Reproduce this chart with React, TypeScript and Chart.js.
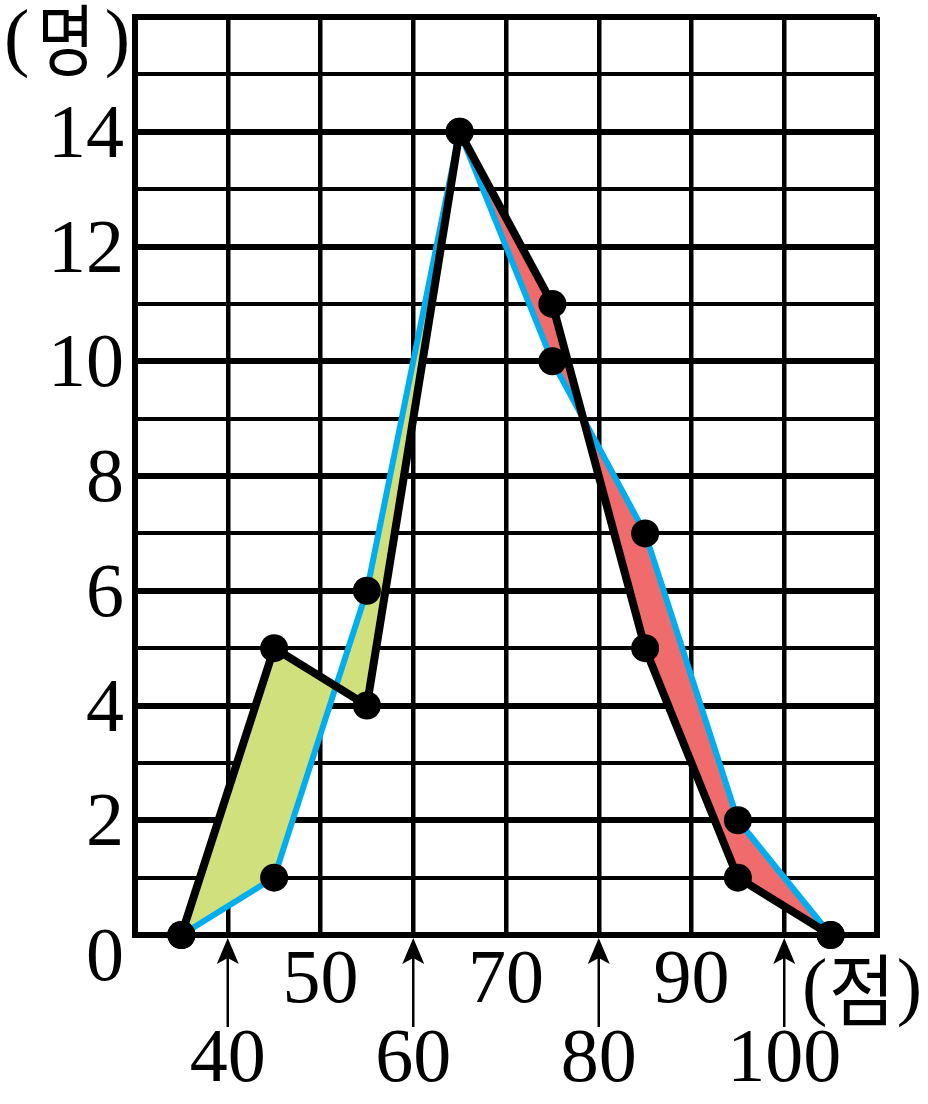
import React, { useEffect, useRef } from "react";
import { Chart, registerables } from "chart.js";

Chart.register(...registerables);

// ---- data ----
const scores = [35, 45, 55, 65, 75, 85, 95, 105];
const groupBlack = [0, 5, 4, 14, 11, 5, 1, 0];
const groupBlue = [0, 1, 6, 14, 10, 7, 2, 0];
const yTickLabels = [0, 2, 4, 6, 8, 10, 12, 14];
const xUpperLabels = [50, 70, 90];
const xLowerLabels = [40, 60, 80, 100];
const yUnit = "명";
const xUnit = "점";
const peakIndex = 3;

const GREEN = "#d0e07c";
const RED = "#f06c6c";
const BLUE = "#00aeef";
const FS = 76;
const SERIF = `${FS}px "Liberation Serif", "Times New Roman", serif`;

const pts = (ys: number[], from: number, to: number) =>
  scores.slice(from, to).map((x, i) => ({ x, y: ys[from + i] }));

const annotations = {
  id: "annotations",
  afterDraw(chart: any) {
    const { ctx, chartArea: a, scales } = chart;
    const x = scales.x;
    const y = scales.y;
    ctx.save();
    ctx.fillStyle = "#000";
    ctx.strokeStyle = "#000";
    ctx.font = SERIF;
    ctx.textBaseline = "alphabetic";

    // y tick labels
    for (const v of yTickLabels) {
      if (v === 0) {
        ctx.textAlign = "center";
        ctx.fillText(String(v), a.left - 30, a.bottom + 45);
      } else {
        ctx.textAlign = "right";
        ctx.fillText(String(v), a.left - 11, y.getPixelForValue(v) + 25);
      }
    }

    // x labels, upper row
    ctx.textAlign = "center";
    for (const v of xUpperLabels) {
      ctx.fillText(String(v), x.getPixelForValue(v), a.bottom + 67);
    }
    // x labels, lower row with arrows
    for (const v of xLowerLabels) {
      const px = x.getPixelForValue(v);
      ctx.fillText(String(v), px, a.bottom + 146);
      ctx.lineWidth = 2.5;
      ctx.beginPath();
      ctx.moveTo(px, a.bottom + 92);
      ctx.lineTo(px, a.bottom + 22);
      ctx.stroke();
      ctx.beginPath();
      ctx.moveTo(px, a.bottom + 3);
      ctx.lineTo(px - 11, a.bottom + 29);
      ctx.lineTo(px, a.bottom + 23);
      ctx.lineTo(px + 11, a.bottom + 29);
      ctx.closePath();
      ctx.fill();
    }

    // unit labels
    const unit = (ch: string, lx: number, rx: number, cx: number, cy: number, base: number, sx: number) => {
      ctx.font = SERIF;
      ctx.textBaseline = "alphabetic";
      ctx.textAlign = "left";
      ctx.fillText("(", lx, base);
      ctx.textAlign = "right";
      ctx.fillText(")", rx, base);
      ctx.save();
      ctx.translate(cx, cy);
      ctx.scale(sx, 1);
      ctx.font = `78px "Noto Sans CJK KR", sans-serif`;
      ctx.textAlign = "center";
      ctx.textBaseline = "middle";
      ctx.fillText(ch, 0, 0);
      ctx.restore();
    };
    unit(yUnit, 4, 130, 66, 40, 62, 0.8);
    unit(xUnit, 802, 922, 862, 990, 1011, 0.92);

    ctx.restore();
  },
};

export default function App() {
  const ref = useRef<HTMLCanvasElement | null>(null);

  useEffect(() => {
    if (!ref.current) return;
    const chart = new Chart(ref.current, {
      type: "line",
      data: {
        datasets: [
          {
            label: "black",
            data: pts(groupBlack, 0, scores.length),
            borderColor: "#000",
            borderWidth: 8,
            pointRadius: 14,
            pointBackgroundColor: "#000",
            pointBorderWidth: 0,
            fill: false,
            tension: 0,
            clip: false,
          },
          {
            label: "blue",
            data: pts(groupBlue, 0, scores.length),
            borderColor: BLUE,
            borderWidth: 6,
            pointRadius: 14,
            pointBackgroundColor: "#000",
            pointBorderWidth: 0,
            fill: false,
            tension: 0,
            clip: false,
          },
          {
            label: "fillLeftA",
            data: pts(groupBlack, 0, peakIndex + 1),
            borderColor: "transparent",
            borderWidth: 0,
            pointRadius: 0,
            fill: { target: 3, above: GREEN, below: GREEN },
            tension: 0,
            clip: false,
          },
          {
            label: "fillLeftB",
            data: pts(groupBlue, 0, peakIndex + 1),
            borderColor: "transparent",
            borderWidth: 0,
            pointRadius: 0,
            fill: false,
            tension: 0,
            clip: false,
          },
          {
            label: "fillRightA",
            data: pts(groupBlack, peakIndex, scores.length),
            borderColor: "transparent",
            borderWidth: 0,
            pointRadius: 0,
            fill: { target: 5, above: RED, below: RED },
            tension: 0,
            clip: false,
          },
          {
            label: "fillRightB",
            data: pts(groupBlue, peakIndex, scores.length),
            borderColor: "transparent",
            borderWidth: 0,
            pointRadius: 0,
            fill: false,
            tension: 0,
            clip: false,
          },
        ],
      },
      options: {
        responsive: false,
        animation: false,
        devicePixelRatio: 1,
        layout: { padding: { left: 135, top: 17, right: 51, bottom: 169 } },
        plugins: {
          legend: { display: false },
          tooltip: { enabled: false },
          filler: { drawTime: "beforeDatasetsDraw" },
        },
        scales: {
          x: {
            type: "linear",
            min: 30,
            max: 110,
            ticks: { stepSize: 10, display: false },
            grid: {
              color: "#000",
              drawTicks: false,
              lineWidth: (c: any) =>
                c.tick && (c.tick.value === 30 || c.tick.value === 110) ? 6 : 4.5,
            },
            border: { display: true, color: "#000", width: 6 },
          },
          y: {
            type: "linear",
            min: 0,
            max: 16,
            ticks: { stepSize: 1, display: false },
            grid: {
              color: "#000",
              drawTicks: false,
              lineWidth: (c: any) => (c.tick && c.tick.value % 2 === 0 ? 6 : 4),
            },
            border: { display: true, color: "#000", width: 6 },
          },
        },
      } as any,
      plugins: [annotations],
    });
    return () => chart.destroy();
  }, []);

  return (
    <div style={{ position: "absolute", left: 0, top: 0, width: 928, height: 1104, background: "#fff" }}>
      <canvas ref={ref} width={928} height={1104} style={{ width: 928, height: 1104, display: "block" }} />
    </div>
  );
}
